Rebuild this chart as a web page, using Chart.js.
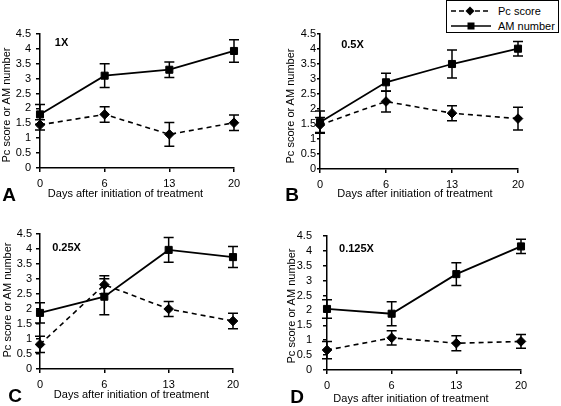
<!DOCTYPE html>
<html><head><meta charset="utf-8">
<script src="https://cdn.jsdelivr.net/npm/chart.js@4.4.1/dist/chart.umd.min.js"></script>
<style>
html,body{margin:0;padding:0;background:#fff;}
body{width:561px;height:406px;position:relative;overflow:hidden;font-family:"Liberation Sans",Arial,sans-serif;color:#000;}
canvas{position:absolute;}
.t{position:absolute;white-space:nowrap;line-height:1;transform:translate(-50%,-50%);}
.yt{position:absolute;white-space:nowrap;line-height:1;font-size:11px;transform:translate(-50%,-50%) rotate(-90deg);}
.xt{font-size:11px;}
.pl{font-weight:bold;font-size:19px;}
.sl{font-weight:bold;font-size:11px;}
#legend{position:absolute;left:446px;top:0px;width:113px;height:33px;box-sizing:border-box;border:1.5px solid #000;background:#fff;}
#legend .row{position:absolute;left:0;height:12px;}
#legend svg{position:absolute;left:3px;top:0;}
#legend span{position:absolute;left:51px;top:0;font-size:11px;line-height:12px;}
</style></head>
<body>
<canvas id="cA" width="280" height="203" style="left:0;top:0"></canvas>
<canvas id="cB" width="281" height="203" style="left:280px;top:0"></canvas>
<canvas id="cC" width="280" height="203" style="left:0;top:203px"></canvas>
<canvas id="cD" width="281" height="203" style="left:280px;top:203px"></canvas>

<div class="yt" style="left:6px;top:105px">Pc score or AM number</div>
<div class="yt" style="left:290px;top:106px">Pc score or AM number</div>
<div class="yt" style="left:6.5px;top:300px">Pc score or AM number</div>
<div class="yt" style="left:291px;top:306px">Pc score or AM number</div>

<div class="t xt" style="left:125.5px;top:193px">Days after initiation of treatment</div>
<div class="t xt" style="left:415px;top:192.5px">Days after initiation of treatment</div>
<div class="t xt" style="left:131.5px;top:394px">Days after initiation of treatment</div>
<div class="t xt" style="left:411px;top:398px">Days after initiation of treatment</div>

<div class="t pl" style="left:9px;top:194px">A</div>
<div class="t pl" style="left:292px;top:194px">B</div>
<div class="t pl" style="left:15px;top:395px">C</div>
<div class="t pl" style="left:297px;top:396px">D</div>

<div class="t sl" style="left:61.5px;top:42px">1X</div>
<div class="t sl" style="left:352.5px;top:43.5px">0.5X</div>
<div class="t sl" style="left:66.5px;top:247px">0.25X</div>
<div class="t sl" style="left:356.5px;top:248px">0.125X</div>

<div id="legend">
  <div class="row" style="top:4px;width:110px">
    <svg width="42" height="12"><line x1="1" y1="6" x2="39" y2="6" stroke="#000" stroke-width="1.5" stroke-dasharray="5,3"/><polygon points="20,1.5 24.5,6 20,10.5 15.5,6" fill="#000"/></svg>
    <span>Pc score</span>
  </div>
  <div class="row" style="top:19px;width:110px">
    <svg width="42" height="12"><line x1="1" y1="6" x2="41" y2="6" stroke="#000" stroke-width="1.5"/><rect x="17.5" y="2.5" width="7" height="7" fill="#000"/></svg>
    <span>AM number</span>
  </div>
</div>

<script>
// ---- data ----
const days = ['0', '6', '13', '20'];
const yTicks = [0, 0.5, 1, 1.5, 2, 2.5, 3, 3.5, 4, 4.5];
const seriesNames = ['Pc score', 'AM number'];

// Panel A (1X)
const pcA    = [1.45, 1.80, 1.13, 1.52];
const pcErrA = [0.17, 0.26, 0.40, 0.26];
const amA    = [1.80, 3.10, 3.30, 3.93];
const amErrA = [0.33, 0.40, 0.26, 0.38];
// Panel B (0.5X)
const pcB    = [1.47, 2.25, 1.86, 1.68];
const pcErrB = [0.25, 0.35, 0.25, 0.38];
const amB    = [1.56, 2.89, 3.50, 4.01];
const amErrB = [0.37, 0.30, 0.47, 0.24];
// Panel C (0.25X)
const pcC    = [0.82, 2.81, 2.00, 1.60];
const pcErrC = [0.27, 0.30, 0.25, 0.26];
const amC    = [1.87, 2.41, 3.97, 3.73];
const amErrC = [0.34, 0.60, 0.41, 0.35];
// Panel D (0.125X)
const pcD    = [0.67, 1.08, 0.90, 0.96];
const pcErrD = [0.29, 0.24, 0.25, 0.23];
const amD    = [2.05, 1.89, 3.22, 4.15];
const amErrD = [0.31, 0.40, 0.38, 0.24];

// ---- drawing ----
const FONT = '"Liberation Sans", Arial, sans-serif';

const errorBars = {
  id: 'errorBars',
  beforeDatasetsDraw(chart) {
    const ctx = chart.ctx, ys = chart.scales.y;
    chart.data.datasets.forEach((ds, i) => {
      const errs = ds.errors;
      if (!errs) return;
      const meta = chart.getDatasetMeta(i);
      ctx.save();
      ctx.strokeStyle = '#000';
      ctx.lineWidth = 1.5;
      ctx.setLineDash([]);
      meta.data.forEach((pt, j) => {
        const v = ds.data[j], e = errs[j];
        const x = pt.x;
        const yt = ys.getPixelForValue(v + e), yb = ys.getPixelForValue(v - e);
        ctx.beginPath();
        ctx.moveTo(x, yt); ctx.lineTo(x, yb);
        ctx.moveTo(x - 5, yt); ctx.lineTo(x + 5, yt);
        ctx.moveTo(x - 5, yb); ctx.lineTo(x + 5, yb);
        ctx.stroke();
      });
      ctx.restore();
    });
  }
};

function makeChart(id, pc, pcErr, am, amErr, g) {
  const H = 203;
  new Chart(document.getElementById(id), {
    type: 'line',
    data: {
      labels: days,
      datasets: [
        { label: seriesNames[0], data: pc, errors: pcErr, borderColor: '#000', backgroundColor: '#000',
          borderWidth: 1.6, borderDash: [5, 4], pointStyle: 'rectRot', pointRadius: 4.8,
          pointBorderWidth: 1, pointBackgroundColor: '#000', pointBorderColor: '#000', tension: 0, clip: false },
        { label: seriesNames[1], data: am, errors: amErr, borderColor: '#000', backgroundColor: '#000',
          borderWidth: 1.8, pointStyle: 'rect', pointRadius: 5, pointBorderWidth: 1,
          pointBackgroundColor: '#000', pointBorderColor: '#000', tension: 0, clip: false }
      ]
    },
    options: {
      responsive: false, animation: false, devicePixelRatio: 1,
      layout: { padding: { left: 0, top: g.top, right: g.w - g.right, bottom: 0 } },
      plugins: { legend: { display: false }, tooltip: { enabled: false } },
      scales: {
        x: {
          type: 'category', offset: false,
          grid: { display: true, drawOnChartArea: false, drawTicks: true, tickLength: 4, color: '#000', lineWidth: 1.5 },
          border: { display: true, color: '#000', width: 1.5 },
          ticks: { color: '#000', font: { family: FONT, size: 11 }, padding: 5, maxRotation: 0, autoSkip: false },
          afterFit: s => { s.height = H - g.bottom; }
        },
        y: {
          min: 0, max: 4.5,
          afterBuildTicks: s => { s.ticks = yTicks.map(v => ({ value: v })); },
          grid: { display: true, drawOnChartArea: false, drawTicks: true, tickLength: g.tl, color: '#000', lineWidth: 1.5 },
          border: { display: true, color: '#000', width: 1.5 },
          ticks: { color: '#000', font: { family: FONT, size: 11 }, padding: g.tp, autoSkip: false,
                   callback: v => String(v) },
          afterFit: s => { s.width = g.left; }
        }
      }
    },
    plugins: [errorBars]
  });
}

makeChart('cA', pcA, pcErrA, amA, amErrA, { w: 280, left: 40, right: 234, top: 34, bottom: 168, tl: 4, tp: 5 });
makeChart('cB', pcB, pcErrB, amB, amErrB, { w: 281, left: 40, right: 238, top: 34, bottom: 169, tl: 3, tp: 1 });
makeChart('cC', pcC, pcErrC, amC, amErrC, { w: 280, left: 40, right: 233, top: 31, bottom: 166, tl: 4, tp: 4 });
makeChart('cD', pcD, pcErrD, amD, amErrD, { w: 281, left: 47, right: 241, top: 33, bottom: 167, tl: 4, tp: 11 });
</script>
</body></html>
